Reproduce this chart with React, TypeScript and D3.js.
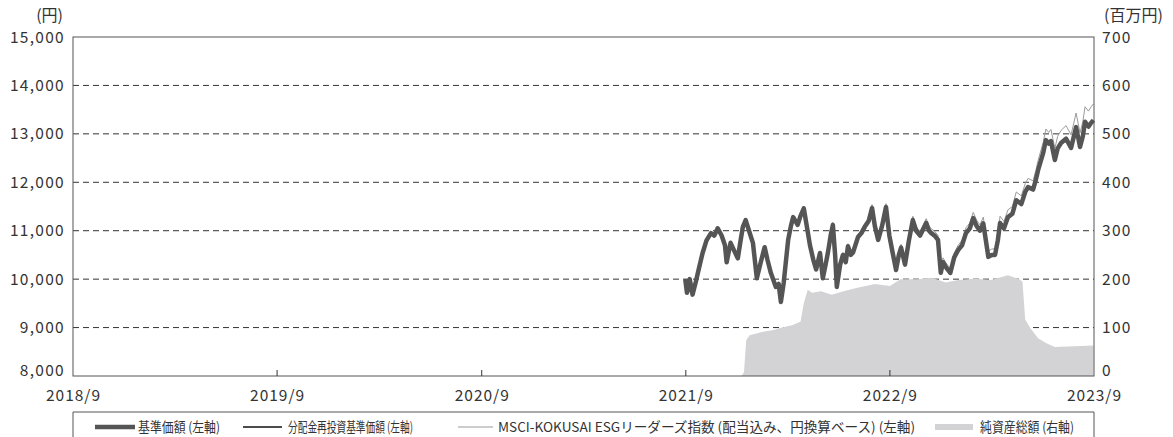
import * as d3 from "d3";

// 基準価額 (円) — 分配金なしのため分配金再投資基準価額も同じ値
const navDates = [
  "2021-08-31", "2021-09-03", "2021-09-08", "2021-09-13", "2021-09-19", "2021-09-25",
  "2021-10-01", "2021-10-08", "2021-10-16", "2021-10-22", "2021-10-28", "2021-11-04",
  "2021-11-10", "2021-11-13", "2021-11-20", "2021-11-26", "2021-12-03", "2021-12-08",
  "2021-12-12", "2021-12-17", "2021-12-23", "2021-12-30", "2022-01-06", "2022-01-13",
  "2022-01-20", "2022-01-25", "2022-01-31", "2022-02-09", "2022-02-14", "2022-02-18",
  "2022-02-23", "2022-03-03", "2022-03-08", "2022-03-12", "2022-03-20", "2022-03-25",
  "2022-03-31", "2022-04-06", "2022-04-11", "2022-04-17", "2022-04-22", "2022-04-29",
  "2022-05-04", "2022-05-09", "2022-05-13", "2022-05-18", "2022-05-22", "2022-05-26",
  "2022-05-29", "2022-06-04", "2022-06-09", "2022-06-14", "2022-06-18", "2022-06-23",
  "2022-06-27", "2022-07-06", "2022-07-12", "2022-07-18", "2022-07-25", "2022-07-31",
  "2022-08-05", "2022-08-11", "2022-08-18", "2022-08-25", "2022-08-31", "2022-09-06",
  "2022-09-12", "2022-09-17", "2022-09-21", "2022-09-28", "2022-10-05", "2022-10-12",
  "2022-10-18", "2022-10-25", "2022-11-05", "2022-11-10", "2022-11-14", "2022-11-20",
  "2022-11-26", "2022-12-01", "2022-12-05", "2022-12-10", "2022-12-18", "2022-12-25",
  "2023-01-01", "2023-01-08", "2023-01-15", "2023-01-22", "2023-01-28", "2023-02-03",
  "2023-02-09", "2023-02-15", "2023-02-24", "2023-03-02", "2023-03-08", "2023-03-13",
  "2023-03-17", "2023-03-24", "2023-03-31", "2023-04-08", "2023-04-15", "2023-04-24",
  "2023-05-01", "2023-05-06", "2023-05-15", "2023-05-20", "2023-05-24", "2023-06-02",
  "2023-06-07", "2023-06-12", "2023-06-16", "2023-06-23", "2023-06-28", "2023-07-04",
  "2023-07-13", "2023-07-22", "2023-07-31", "2023-08-07", "2023-08-12", "2023-08-16",
  "2023-08-22", "2023-08-27", "2023-08-31",
];

const navValues = [
  10000, 9720, 10000, 9680, 9950, 10250,
  10540, 10800, 10950, 10900, 11050, 10900,
  10700, 10350, 10750, 10600, 10430, 10800,
  11080, 11220, 11000, 10750, 10020, 10350,
  10660, 10400, 10130, 9840, 9900, 9530,
  9920, 10810, 11100, 11280, 11120, 11300,
  11460, 11050, 10700, 10400, 10200, 10540,
  10020, 10300, 10540, 10900, 11120, 10500,
  9840, 10300, 10500, 10350, 10680, 10500,
  10550, 10870, 10950, 11080, 11200, 11470,
  11100, 10810, 11100, 11490, 10900, 10540,
  10190, 10500, 10650, 10300, 10800, 11220,
  11000, 10900, 11160, 11000, 10950, 10900,
  10810, 10130, 10350, 10250, 10130, 10450,
  10600, 10700, 10950, 11050, 11260, 11100,
  11000, 11150, 10460, 10500, 10500, 10800,
  11160, 11050, 11280, 11350, 11630, 11550,
  11800, 11900, 11850, 12050, 12250, 12600,
  12870, 12800, 12850, 12460, 12700, 12810,
  12900, 12710, 13140, 12730, 12950, 13250,
  13150, 13230, 13280,
];

const reinvestValues = navValues;

// MSCI-KOKUSAI ESGリーダーズ指数 (円換算)
const indexValues = [
  10000, 9730, 10020, 9690, 9970, 10270,
  10560, 10820, 10980, 10930, 11080, 10930,
  10730, 10370, 10780, 10630, 10450, 10830,
  11110, 11260, 11030, 10780, 10050, 10380,
  10700, 10430, 10170, 9870, 9940, 9560,
  9960, 10850, 11140, 11320, 11160, 11340,
  11500, 11090, 10740, 10440, 10240, 10580,
  10060, 10340, 10590, 10950, 11170, 10550,
  9880, 10350, 10550, 10400, 10730, 10550,
  10600, 10930, 11010, 11140, 11260, 11540,
  11170, 10880, 11170, 11560, 10970, 10610,
  10260, 10570, 10720, 10370, 10880, 11300,
  11080, 10990, 11250, 11090, 11040, 10990,
  10900, 10220, 10440, 10340, 10220, 10540,
  10700, 10800, 11060, 11160, 11380, 11220,
  11120, 11280, 10580, 10620, 10630, 10930,
  11300, 11190, 11430, 11500, 11800, 11720,
  11970, 12080, 12030, 12240, 12450, 12820,
  13100, 13030, 13090, 12700, 12950, 13070,
  13170, 12980, 13430, 13020, 13250, 13560,
  13470, 13560, 13620,
];

// 純資産総額 (百万円)
const assetDates = [
  "2021-12-10", "2021-12-14", "2021-12-18", "2021-12-24", "2022-01-05", "2022-01-20",
  "2022-02-05", "2022-02-20", "2022-03-10", "2022-03-25", "2022-03-31", "2022-04-07",
  "2022-04-15", "2022-05-01", "2022-05-20", "2022-06-10", "2022-07-05", "2022-08-05",
  "2022-09-01", "2022-09-20", "2022-10-20", "2022-11-15", "2022-12-10", "2023-01-01",
  "2023-02-01", "2023-03-01", "2023-03-31", "2023-04-20", "2023-04-26", "2023-05-01",
  "2023-05-10", "2023-05-24", "2023-06-07", "2023-06-23", "2023-08-31",
];
const assetValues = [
  0, 8, 74, 84, 88, 92,
  95, 100, 105, 112, 150, 178,
  172, 175, 168, 175, 182, 190,
  186, 200, 200, 203, 193, 198,
  201, 198, 208, 200, 195, 116,
  99, 78, 68, 60, 63,
];

const leftTicks = [8000, 9000, 10000, 11000, 12000, 13000, 14000, 15000];
const rightTicks = [0, 100, 200, 300, 400, 500, 600, 700];
const yearTicks = ["2018/9", "2019/9", "2020/9", "2021/9", "2022/9", "2023/9"];

// legend: swatch start x, text width (fitted)
const legendItems = [
  { label: "基準価額 (左軸)", kind: "nav", x: 95, w: 82 },
  { label: "分配金再投資基準価額 (左軸)", kind: "reinvest", x: 243, w: 125 },
  { label: "MSCI-KOKUSAI ESGリーダーズ指数 (配当込み、円換算ベース) (左軸)", kind: "index", x: 458, w: 417 },
  { label: "純資産総額 (右軸)", kind: "asset", x: 935, w: 94 },
];

const W = 1173;
const H = 437;
const margin = { top: 37, right: 79, bottom: 61, left: 73 };
const FONT = "'Noto Sans CJK JP', 'Noto Sans', sans-serif";
const TEXT = "#333";

const parse = d3.timeParse("%Y-%m-%d");

export default function App() {
  const x = d3
    .scaleTime()
    .domain([new Date(2018, 8, 1), new Date(2023, 8, 1)])
    .range([margin.left, W - margin.right]);
  const yL = d3.scaleLinear().domain([8000, 15000]).range([H - margin.bottom, margin.top]);
  const yR = d3.scaleLinear().domain([0, 700]).range([H - margin.bottom, margin.top]);

  const navPts = navDates.map((d, i) => ({ t: parse(d) as Date, v: navValues[i] }));
  const rePts = navDates.map((d, i) => ({ t: parse(d) as Date, v: reinvestValues[i] }));
  const idxPts = navDates.map((d, i) => ({ t: parse(d) as Date, v: indexValues[i] }));
  const assetPts = assetDates.map((d, i) => ({ t: parse(d) as Date, v: assetValues[i] }));

  const line = d3
    .line<{ t: Date; v: number }>()
    .x((d) => x(d.t))
    .y((d) => yL(d.v));
  const area = d3
    .area<{ t: Date; v: number }>()
    .x((d) => x(d.t))
    .y0(yR(0))
    .y1((d) => yR(d.v));

  const x0 = x.range()[0];
  const x1 = x.range()[1];
  const yTop = yL(15000);
  const yBot = yL(8000);

  // tick label baseline: bottom labels sit on the axis, others centred on their line
  const labelY = (y: number) => (Math.abs(y - yBot) < 1 ? yBot : y + 5.5);

  const legendY = 427;

  return (
    <svg
      width={W}
      height={H}
      style={{ position: "absolute", left: 0, top: 0, background: "#fff" }}
      fontFamily={FONT}
    >
      {/* grid lines */}
      {leftTicks.slice(1, -1).map((t) => (
        <line
          key={t}
          x1={x0}
          x2={x1}
          y1={yL(t)}
          y2={yL(t)}
          stroke="#333"
          strokeWidth={1}
          strokeDasharray="6,4"
        />
      ))}

      {/* 純資産総額 */}
      <path d={area(assetPts) ?? ""} fill="#d3d3d5" />

      {/* lines */}
      <path d={line(idxPts) ?? ""} fill="none" stroke="#9a9a9a" strokeWidth={1} />
      <path d={line(rePts) ?? ""} fill="none" stroke="#111" strokeWidth={1.2} />
      <path d={line(navPts) ?? ""} fill="none" stroke="#555" strokeWidth={4.5} strokeLinejoin="round" />

      {/* frame */}
      <rect x={x0} y={yTop} width={x1 - x0} height={yBot - yTop} fill="none" stroke="#555" strokeWidth={1} />

      {/* x ticks */}
      {yearTicks.map((lab, i) => {
        const xp = x(new Date(2018 + i, 8, 1));
        return (
          <g key={lab}>
            {i > 0 && i < yearTicks.length - 1 && (
              <line x1={xp} x2={xp} y1={yBot} y2={yBot - 6} stroke="#333" />
            )}
            <text x={xp + 0.5} y={yBot + 25} textAnchor="middle" fontSize={15.5} letterSpacing={1} fill={TEXT}>
              {lab}
            </text>
          </g>
        );
      })}

      {/* left axis labels */}
      {leftTicks.map((t) => (
        <text key={t} x={x0 - 8} y={labelY(yL(t))} textAnchor="end" fontSize={15.5} letterSpacing={1.3} fill={TEXT}>
          {d3.format(",")(t)}
        </text>
      ))}
      <text x={x0 - 10} y={21} textAnchor="end" fontSize={16} fill={TEXT}>
        (円)
      </text>

      {/* right axis labels */}
      {rightTicks.map((t) => (
        <text key={t} x={x1 + 8} y={labelY(yR(t))} textAnchor="start" fontSize={15.5} letterSpacing={1.3} fill={TEXT}>
          {t}
        </text>
      ))}
      <text x={x1 + 10} y={21} textAnchor="start" fontSize={16} fill={TEXT}>
        (百万円)
      </text>

      {/* legend */}
      <path d={`M${x0},${H + 2}V412H${x1}V${H + 2}`} fill="none" stroke="#555" strokeWidth={1} />
      {legendItems.map((it) => {
        const lx = it.x;
        let swatch;
        if (it.kind === "nav") {
          swatch = <line x1={lx} x2={lx + 40} y1={legendY} y2={legendY} stroke="#555" strokeWidth={4.5} />;
        } else if (it.kind === "reinvest") {
          swatch = <line x1={lx} x2={lx + 39} y1={legendY} y2={legendY} stroke="#111" strokeWidth={1.5} />;
        } else if (it.kind === "index") {
          swatch = <line x1={lx} x2={lx + 35} y1={legendY} y2={legendY} stroke="#9a9a9a" strokeWidth={1} />;
        } else {
          swatch = <rect x={lx} y={legendY - 3} width={38} height={6} fill="#d3d3d5" />;
        }
        const tx = it.kind === "nav" ? lx + 43 : it.kind === "reinvest" ? lx + 45 : it.kind === "index" ? lx + 40 : lx + 45;
        return (
          <g key={it.label}>
            {swatch}
            <text
              x={tx}
              y={legendY + 5}
              fontSize={13.5}
              fill={TEXT}
              textLength={it.w}
              lengthAdjust="spacingAndGlyphs"
            >
              {it.label}
            </text>
          </g>
        );
      })}
    </svg>
  );
}
